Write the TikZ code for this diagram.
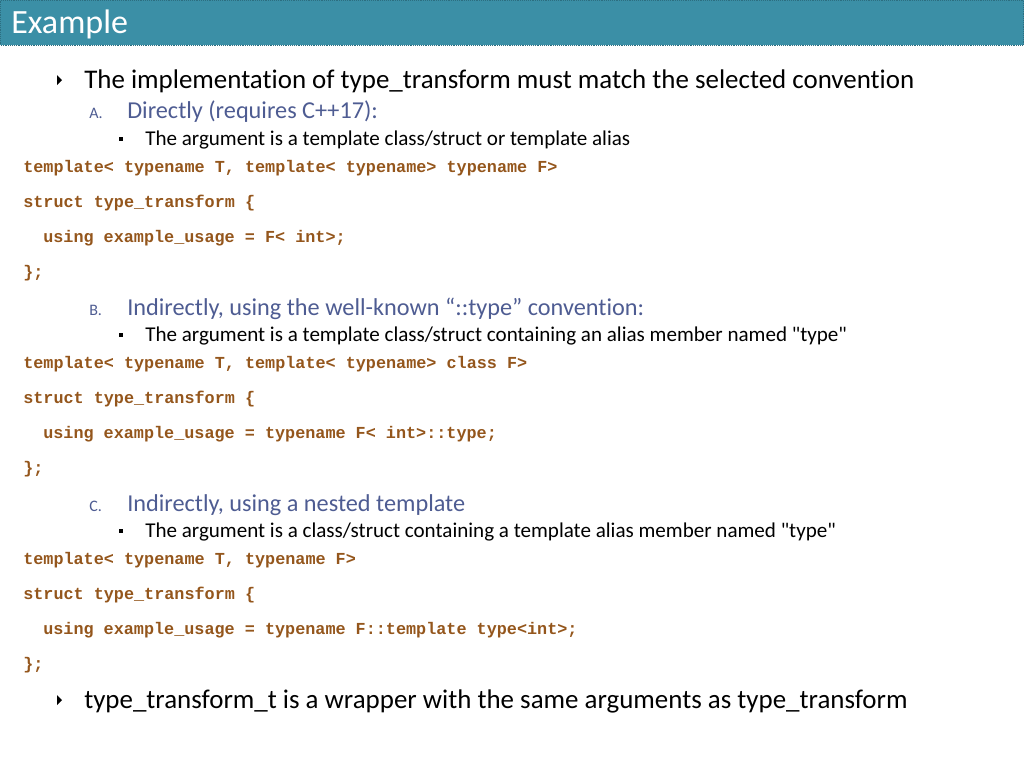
\documentclass[tikz,border=0pt]{standalone}
\usepackage{fontspec}
\setmainfont[Ligatures={TeX,NoCommon}]{Carlito}
\newfontfamily\codefont{Liberation Mono}
\usetikzlibrary{positioning}
\definecolor{headbg}{HTML}{3B8FA6}
\definecolor{headline}{HTML}{2C6E80}
\definecolor{subblue}{HTML}{4E5C92}
\definecolor{codebrown}{HTML}{94561C}
\tikzset{
  txt/.style={anchor=base west, inner sep=0pt},
  lvlone/.style={txt, font=\fontsize{20.2}{23}\selectfont},
  lvltwo/.style={txt, text=subblue, font=\fontsize{18.2}{21}\selectfont},
  lvlmark/.style={txt, text=subblue, font=\fontsize{12}{14}\selectfont},
  lvlthree/.style={txt, font=\fontsize{15.8}{18}\selectfont},
  code/.style={txt, text=codebrown, font=\codefont\bfseries\fontsize{12.6}{15}\selectfont},
  tri/.style={fill=black},
  sq/.style={fill=black}
}
\begin{document}
\begin{tikzpicture}[x=0.75pt,y=-0.75pt]
  \useasboundingbox (0,0) rectangle (1024,768);
  % title bar
  \fill[headbg] (0,0) rectangle (1024,45);
  \draw[headline,densely dotted] (0.5,0.5) rectangle (1023.5,45);
  \node[txt, text=white, font=\fontsize{25.5}{28}\selectfont] (title) at (11,33) {Example};
  % first bullet
  \fill[tri] (57,75) -- (62,80) -- (57,85) -- cycle;
  \node[lvlone] (impl) at (84,88) {The implementation of type\_transform must match the selected convention};
  % A
  \node[lvlmark] (ma) at (89,118) {A.};
  \node[lvltwo] (da) at (127,118) {Directly (requires C++17):};
  \fill[sq] (119,137) rectangle (123,141);
  \node[lvlthree] (ba) at (145,145) {The argument is a template class/struct or template alias};
  \node[code] (ca1) at (23,172) {template< typename T, template< typename> typename F>};
  \node[code] (ca2) at (23,207) {struct type\_transform \{};
  \node[code] (ca3) at (43,242) {using example\_usage = F< int>;};
  \node[code] (ca4) at (23,277) {\};};
  % B
  \node[lvlmark] (mb) at (89,315) {B.};
  \node[lvltwo] (db) at (127,315) {Indirectly, using the well-known “::type” convention:};
  \fill[sq] (119,333) rectangle (123,337);
  \node[lvlthree] (bb) at (145,341) {The argument is a template class/struct containing an alias member named \textquotedbl type\textquotedbl};
  \node[code] (cb1) at (23,368) {template< typename T, template< typename> class F>};
  \node[code] (cb2) at (23,403) {struct type\_transform \{};
  \node[code] (cb3) at (43,438) {using example\_usage = typename F< int>::type;};
  \node[code] (cb4) at (23,473) {\};};
  % C
  \node[lvlmark] (mc) at (89,511) {C.};
  \node[lvltwo] (dc) at (127,511) {Indirectly, using a nested template};
  \fill[sq] (119,529) rectangle (123,533);
  \node[lvlthree] (bc) at (145,537) {The argument is a class/struct containing a template alias member named \textquotedbl type\textquotedbl};
  \node[code] (cc1) at (23,564) {template< typename T, typename F>};
  \node[code] (cc2) at (23,599) {struct type\_transform \{};
  \node[code] (cc3) at (43,634) {using example\_usage = typename F::template type<int>;};
  \node[code] (cc4) at (23,669) {\};};
  % last bullet
  \fill[tri] (57,695) -- (62,700) -- (57,705) -- cycle;
  \node[lvlone] (wrap) at (84,708) {type\_transform\_t is a wrapper with the same arguments as type\_transform};
\end{tikzpicture}
\end{document}
